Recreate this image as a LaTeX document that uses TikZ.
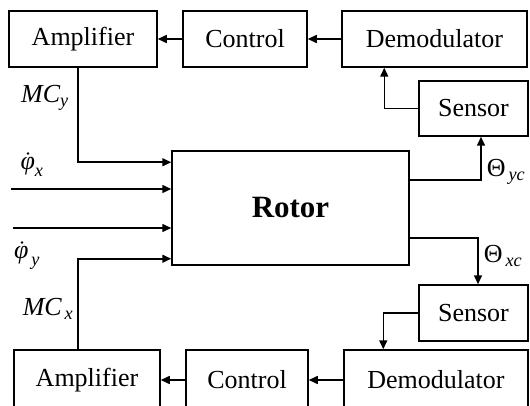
\documentclass[tikz,border=0pt]{standalone}
\usepackage{amsmath}
\usepackage{fontspec}
\setmainfont{Liberation Serif}
\usetikzlibrary{arrows.meta,calc}

\tikzset{
  blockbox/.style={draw, line width=1.5pt, inner sep=0pt, minimum height=56pt,
                   font=\fontsize{26}{30}\selectfont},
  wire/.style={line width=1.5pt},
  arrowwire/.style={wire, -{Triangle[length=9pt,width=8pt]}},
  sig/.style={inner sep=0pt, font=\fontsize{26}{30}\selectfont},
  ratedot/.style={fill=black}
}

\begin{document}
\begin{tikzpicture}[x=1pt,y=-1pt]
  \useasboundingbox (0,0) rectangle (530,406);
  \clip (0,0) rectangle (530,406);

  % upper loop
  \node[blockbox, minimum width=148pt] (ampT)  at (83,39)    {Amplifier};
  \node[blockbox, minimum width=124pt] (ctrlT) at (245,39)   {Control};
  \node[blockbox, minimum width=185pt] (demT)  at (434.5,39) {Demodulator};
  \node[blockbox, minimum width=109pt, minimum height=55pt] (senT) at (473.5,108.5) {Sensor};

  % rotor
  \node[draw, line width=1.5pt, minimum width=237pt, minimum height=114pt,
        font=\fontsize{31}{36}\selectfont\bfseries] (rotor) at (290.5,208) {Rotor};

  % lower loop
  \node[blockbox, minimum width=109pt] (senB)  at (473.5,313) {Sensor};
  \node[blockbox, minimum width=146pt, minimum height=60pt] (ampB)  at (87,380)  {Amplifier};
  \node[blockbox, minimum width=122pt, minimum height=60pt] (ctrlB) at (247,380) {Control};
  \node[blockbox, minimum width=184pt, minimum height=60pt] (demB)  at (436,380) {Demodulator};

  % upper feedback chain
  \draw[arrowwire] (ctrlT.west) -- (ampT.east);
  \draw[arrowwire] (demT.west) -- (ctrlT.east);
  \draw[arrowwire] (senT.west) -| ([xshift=43pt]demT.south west);
  \draw[arrowwire] ([yshift=-30pt]rotor.north east) -| ([xshift=7.5pt]senT.south);
  \draw[arrowwire] ([xshift=-5pt]ampT.south) |- ([yshift=-12pt]rotor.north west);

  % lower feedback chain
  \draw[arrowwire] ([yshift=28pt]rotor.south east) -| ([xshift=4.5pt]senB.north);
  \draw[arrowwire] (senB.west) -| ([xshift=40pt]demB.north west);
  \draw[arrowwire] (demB.west) -- (ctrlB.east);
  \draw[arrowwire] (ctrlB.west) -- (ampB.east);
  \draw[arrowwire] ([xshift=-9pt]ampB.north) |- ([yshift=7pt]rotor.south west);

  % external rate inputs
  \coordinate (inX) at (11,189);
  \coordinate (inY) at (13,228);
  \draw[arrowwire] (inX) -- (inX -| rotor.west);
  \draw[arrowwire] (inY) -- (inY -| rotor.west);

  % signal labels
  \node[sig] (lMCy) at (45,98)  {$\textit{MC}_{\textit{y}}$};
  \node[sig] (lMCx) at (48,309) {$\textit{MC}_{\,\textit{x}}$};
  \node[sig] (lphx) at (32,167) {$\textit{φ}_{\textit{x}}$};
  \node[sig] (lphy) at (27,258) {$\textit{φ}_{\,\textit{y}}$};
  \node[sig] (lthy) at (506,172) {$\textup{Θ}_{\,\textit{yc}}$};
  \node[sig] (lthx) at (503,256) {$\textup{Θ}_{\,\textit{xc}}$};

  % time-derivative dots over the rate symbols
  \fill[ratedot] ([xshift=-4pt,yshift=4pt]lphx.north) circle (1.4pt);
  \fill[ratedot] ([xshift=-5pt,yshift=4pt]lphy.north) circle (1.4pt);
\end{tikzpicture}
\end{document}
